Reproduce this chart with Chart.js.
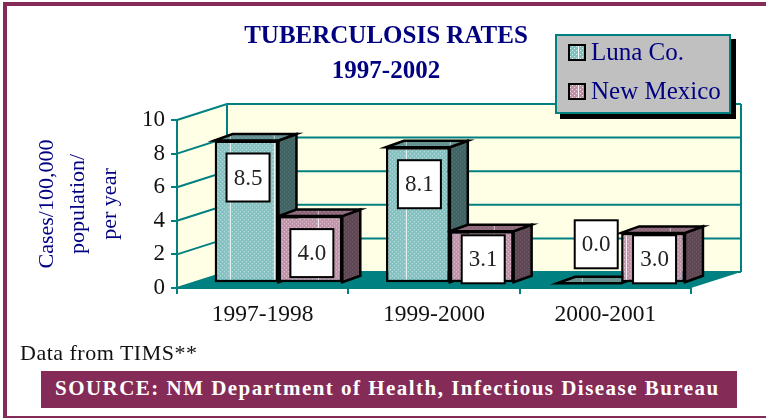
<!DOCTYPE html>
<html>
<head>
<meta charset="utf-8">
<title>Tuberculosis rates</title>
<script src="https://cdn.jsdelivr.net/npm/chart.js@4"></script>
<style>
  html, body { margin: 0; padding: 0; background: #fff; }
  #page { position: relative; width: 766px; height: 418px; overflow: hidden; font-family: "Liberation Serif", serif; }
  #page canvas { position: absolute; left: 0; top: 0; }
  .frame { position: absolute; background: #852b58; }
  #legendBox { position: absolute; left: 555px; top: 34px; width: 172px; height: 76px; background: #c0c0c0; border: 2px solid #008080; box-shadow: 5px 5px 0 #000; }
  .legendRow { position: absolute; left: 11px; height: 30px; display: flex; align-items: center; color: #000080; font-size: 25px; white-space: nowrap; }
  .legendRow i { display: block; width: 14px; height: 13px; border: 2px solid #000; margin-right: 5px; }
  #note { position: absolute; left: 20px; top: 340px; font-size: 22px; line-height: 26px; letter-spacing: 0.5px; color: #111; }
  #source { position: absolute; left: 41px; top: 371px; width: 696px; height: 37px; line-height: 35px; background: #852b58; color: #fff; font-size: 21px; font-weight: bold; letter-spacing: 1.47px; padding-left: 14px; box-sizing: border-box; white-space: nowrap; }
</style>
</head>
<body>
<div id="page">
  <canvas id="tbChart" width="766" height="418"></canvas>
  <div class="frame" style="left:3px;top:2px;width:763px;height:4px"></div>
  <div class="frame" style="left:3px;top:2px;width:4px;height:416px"></div>
  <div class="frame" style="left:3px;top:416px;width:763px;height:2px"></div>
  <div id="legendBox"></div>
  <div id="note">Data from TIMS**</div>
  <div id="source">SOURCE: NM Department of Health, Infectious Disease Bureau</div>
</div>
<script>
// ---- data
const categories = ['1997-1998', '1999-2000', '2000-2001'];
const lunaRates = [8.5, 8.1, 0.0];
const nmRates = [4.0, 3.1, 3.0];
const titleLines = ['TUBERCULOSIS RATES', '1997-2002'];
const yTitleLines = ['Cases/100,000', 'population/', 'per year'];

const TEAL = '#008080';
const WALL = '#ffffe6';
const SERIF = '"Liberation Serif", serif';

// depth of the room and of the bars, the old 3D look
const ROOM_DX = 50, ROOM_DY = -16;
const BAR_SHIFT_X = 15.8, BAR_SHIFT_Y = -4.7;
const BAR_DX = 18, BAR_DY = -6.5;

function makePattern(base, dot, line) {
  const c = document.createElement('canvas');
  c.width = 88;
  c.height = 4;
  const g = c.getContext('2d');
  g.fillStyle = base;
  g.fillRect(0, 0, 88, 4);
  g.fillStyle = dot;
  for (let x = 0; x < 88; x += 4) {
    g.fillRect(x, 0, 1, 1);
    g.fillRect(x + 2, 2, 1, 1);
  }
  if (line) {
    g.fillStyle = line;
    g.fillRect(38, 0, 1, 4);
    g.fillRect(82, 0, 1, 4);
  }
  return c;
}

const tiles = {
  luna: makePattern('#80c0c0', 'rgba(255,255,255,0.75)', '#fff'),
  lunaTop: makePattern('#5f8f8f', 'rgba(255,255,255,0.3)', 'rgba(255,255,255,0.6)'),
  lunaSide: makePattern('#3f6262', 'rgba(255,255,255,0.22)'),
  nm: makePattern('#c090a8', 'rgba(255,255,255,0.75)', '#fff'),
  nmTop: makePattern('#8c6678', 'rgba(255,255,255,0.3)', 'rgba(255,255,255,0.6)'),
  nmSide: makePattern('#5e4552', 'rgba(255,255,255,0.22)'),
};

const canvas = document.getElementById('tbChart');
const ctx = canvas.getContext('2d');
const fill = (name) => ctx.createPattern(tiles[name], 'repeat');

function poly(g, pts, fillStyle, strokeStyle, lw) {
  g.beginPath();
  pts.forEach((p, i) => (i ? g.lineTo(p[0], p[1]) : g.moveTo(p[0], p[1])));
  g.closePath();
  if (fillStyle) { g.fillStyle = fillStyle; g.fill(); }
  if (strokeStyle) { g.strokeStyle = strokeStyle; g.lineWidth = lw; g.lineJoin = 'miter'; g.stroke(); }
}

// walls, floor and grid of the room, behind everything
const roomPlugin = {
  id: 'room',
  beforeDraw(chart) {
    const g = chart.ctx;
    const { left, right, top, bottom } = chart.chartArea;
    const yScale = chart.scales.y;
    g.save();
    poly(g, [[left, top], [left + ROOM_DX, top + ROOM_DY], [right + ROOM_DX, top + ROOM_DY], [right + ROOM_DX, bottom + ROOM_DY], [left + ROOM_DX, bottom + ROOM_DY], [left, bottom]], WALL);
    g.strokeStyle = TEAL;
    g.lineWidth = 2;
    yScale.ticks.forEach((t) => {
      const y = yScale.getPixelForValue(t.value);
      g.beginPath();
      g.moveTo(left, y);
      g.lineTo(left + ROOM_DX, y + ROOM_DY);
      g.lineTo(right + ROOM_DX, y + ROOM_DY);
      g.stroke();
    });
    g.beginPath();
    g.moveTo(left + ROOM_DX, top + ROOM_DY);
    g.lineTo(left + ROOM_DX, bottom + ROOM_DY);
    g.moveTo(right + ROOM_DX, top + ROOM_DY);
    g.lineTo(right + ROOM_DX, bottom + ROOM_DY);
    g.stroke();
    poly(g, [[left, bottom], [left + ROOM_DX, bottom + ROOM_DY], [right + ROOM_DX, bottom + ROOM_DY], [right, bottom]], TEAL);
    g.restore();
  },
};

function barBox(bar) {
  const p = bar.getProps(['x', 'y', 'base', 'width'], true);
  return { l: p.x - p.width / 2, r: p.x + p.width / 2, t: p.y, b: p.base, cx: p.x };
}

// pushes each series onto the floor. Top and side faces go first, Luna then
// New Mexico, so the New Mexico front covers the Luna side
const depthPlugin = {
  id: 'depth',
  beforeDatasetsDraw(chart) {
    const g = chart.ctx;
    g.save();
    g.translate(BAR_SHIFT_X, BAR_SHIFT_Y);
    ['luna', 'nm'].forEach((key, i) => {
      chart.getDatasetMeta(i).data.forEach((bar) => {
        const { l, r, t, b } = barBox(bar);
        if (b - t > 1) {
          poly(g, [[r, t], [r + BAR_DX, t + BAR_DY], [r + BAR_DX, b + BAR_DY], [r, b]], fill(key + 'Side'), '#000', 2.5);
        }
        poly(g, [[l, t], [l + BAR_DX, t + BAR_DY], [r + BAR_DX, t + BAR_DY], [r, t]], fill(key + 'Top'), '#000', 2.5);
      });
    });
    g.restore();
  },
  beforeDatasetDraw(chart) {
    chart.ctx.save();
    chart.ctx.translate(BAR_SHIFT_X, BAR_SHIFT_Y);
  },
  afterDatasetDraw(chart) {
    chart.ctx.restore();
  },
};

// white value boxes on the bars
const BOX_W = 43, BOX_H = 48;
const valueBoxPlugin = {
  id: 'valueBoxes',
  afterDatasetsDraw(chart) {
    const g = chart.ctx;
    g.save();
    g.translate(BAR_SHIFT_X, BAR_SHIFT_Y);
    chart.data.datasets.forEach((ds, i) => {
      chart.getDatasetMeta(i).data.forEach((bar, j) => {
        const { t, b, cx } = barBox(bar);
        const value = ds.data[j];
        let cy = value === 0 ? t - 39 : Math.min(t + 37, b + 1 - BOX_H / 2);
        const x = cx + (value === 0 ? 7 : 1.5);
        g.fillStyle = '#fff';
        g.fillRect(x - BOX_W / 2, cy - BOX_H / 2, BOX_W, BOX_H);
        g.strokeStyle = '#000';
        g.lineWidth = 2;
        g.strokeRect(x - BOX_W / 2, cy - BOX_H / 2, BOX_W, BOX_H);
        g.fillStyle = '#222';
        g.font = '23px ' + SERIF;
        g.textAlign = 'center';
        g.textBaseline = 'middle';
        g.fillText(value.toFixed(1), x, cy + 1);
      });
    });
    g.restore();
  },
};

const chart = new Chart(ctx, {
  type: 'bar',
  data: {
    labels: categories,
    datasets: [
      { label: 'Luna Co.', data: lunaRates, backgroundColor: fill('luna'), borderColor: '#000', borderWidth: 2.5, borderSkipped: false },
      { label: 'New Mexico', data: nmRates, backgroundColor: fill('nm'), borderColor: '#000', borderWidth: 2.5, borderSkipped: false },
    ],
  },
  options: {
    responsive: false,
    animation: false,
    layout: { padding: { left: 6, right: 0, top: 0, bottom: 0 } },
    datasets: { bar: { barPercentage: 1, categoryPercentage: 0.745 } },
    plugins: {
      legend: { display: false },
      tooltip: { enabled: false },
      title: {
        display: true,
        text: titleLines,
        color: '#000080',
        font: { family: SERIF, size: 25, weight: 'bold', lineHeight: '35px' },
        padding: { top: 19.5, bottom: 30.5 },
      },
    },
    scales: {
      x: {
        grid: { drawOnChartArea: false, tickColor: TEAL, tickLength: 6, lineWidth: 2 },
        border: { color: TEAL, width: 2 },
        ticks: { color: '#111', font: { family: SERIF, size: 23.5 }, padding: 7, maxRotation: 0 },
        afterFit: (s) => { s.height = 130; },
      },
      y: {
        min: 0,
        max: 10,
        ticks: { stepSize: 2, color: '#111', font: { family: SERIF, size: 23 }, padding: 6 },
        grid: { drawOnChartArea: false, tickColor: TEAL, tickLength: 6, lineWidth: 2 },
        border: { color: TEAL, width: 2 },
        title: {
          display: true,
          text: yTitleLines,
          color: '#000080',
          font: { family: SERIF, size: 22, lineHeight: '31.5px' },
          padding: { top: 25, bottom: 0 },
        },
        afterFit: (s) => { s.width = 171; },
      },
      // empty axis, only keeps the room's right side free
      spacer: {
        type: 'linear',
        position: 'right',
        display: true,
        grid: { display: false },
        ticks: { display: false },
        border: { display: false },
        afterFit: (s) => { s.width = 75; },
      },
    },
  },
  plugins: [roomPlugin, depthPlugin, valueBoxPlugin],
});

// legend rows from the datasets
const legendBox = document.getElementById('legendBox');
chart.data.datasets.forEach((ds, i) => {
  const row = document.createElement('div');
  row.className = 'legendRow';
  row.style.top = (i === 0 ? 1 : 40) + 'px';
  const swatch = document.createElement('i');
  swatch.style.backgroundImage = 'url(' + tiles[i === 0 ? 'luna' : 'nm'].toDataURL() + ')';
  swatch.style.backgroundPosition = '-30px 0';
  row.appendChild(swatch);
  row.appendChild(document.createTextNode(ds.label));
  legendBox.appendChild(row);
});
</script>
</body>
</html>
